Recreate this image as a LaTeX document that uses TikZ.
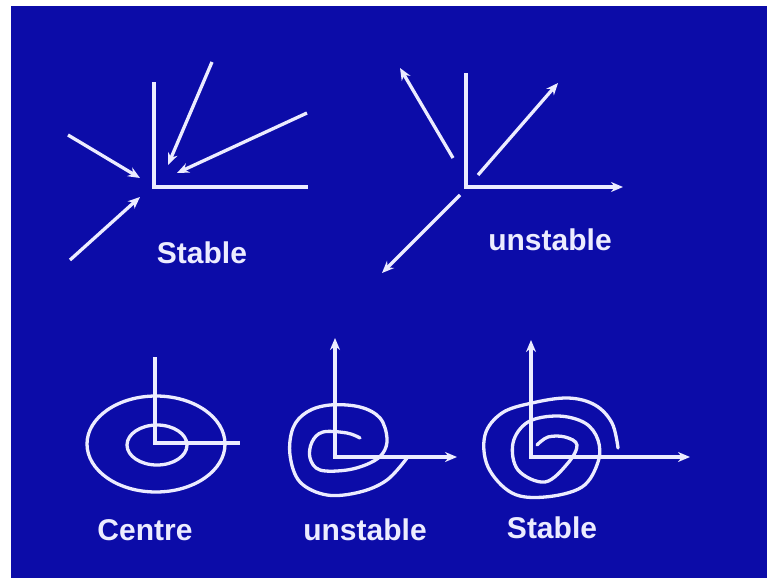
\documentclass[tikz,border=0pt]{standalone}
\usepackage{fontspec}
\setmainfont{Liberation Sans}
\usepackage{xcolor}
\usetikzlibrary{arrows.meta}
\definecolor{slide}{RGB}{12,12,168}
\definecolor{chalk}{RGB}{236,236,255}

\begin{document}
\begin{tikzpicture}[x=1pt, y=-1pt, line width=3.3pt, >={Stealth[length=12pt, width=10pt]}, chalk,
    lbl/.style={font=\fontsize{30}{32}\selectfont\bfseries, text=chalk}]
    % background of the slide
    \fill[white] (0,0) rectangle (767,578);
    \fill[slide] (11,6) rectangle (767,578);
    % stable node
    \draw (154,82) -- (154,187) -- (308,187);
    \draw[->] (68,135) -- (140,178);
    \draw[->] (212,62) -- (168,165);
    \draw[->] (307,113) -- (177,173);
    \draw[->] (70,260) -- (140,197);
    \node[lbl] (stablenode) at (202,253) {Stable};
    % unstable node
    \draw[->] (466,73) -- (466,187) -- (623,187);
    \draw[->] (453,158) -- (400,68);
    \draw[->] (478,175) -- (558,83);
    \draw[->] (460,195) -- (382,273);
    \node[lbl] (unstablenode) at (550,240) {unstable};
    % centre
    \draw (155,357) -- (155,443) -- (240,443);
    \draw (156,444) ellipse (69 and 48);
    \draw (157,445) ellipse (30 and 20);
    \node[lbl] (centre) at (145,530) {Centre};
    % unstable spiral
    \draw[<->] (335,338) -- (335,457) -- (457,457);
    \draw[line cap=round] plot[smooth, tension=0.6] coordinates {(360,438) (347,433) (323,432)
        (312,442) (310,458) (320,470) (347,470) (370,463) (383,453) (387,438) (380,418)
        (360,407) (330,405) (307,412) (293,428) (290,455) (300,482) (327,495) (360,492)
        (387,480) (407,458)};
    \node[lbl] (unstablespiral) at (365,530) {unstable};
    % stable spiral
    \draw[<->] (531,340) -- (531,457) -- (690,457);
    \draw[line cap=round] plot[smooth, tension=0.6] coordinates {(618,448) (612,423) (595,405)
        (568,398) (532,403) (502,413) (485,435) (488,467) (512,493) (545,497) (582,487)
        (598,462) (598,440) (585,423) (558,416) (528,422) (513,443) (518,470) (545,482)
        (568,463) (577,445) (565,437) (548,437) (537,445)};
    \node[lbl] (stablespiral) at (552,528) {Stable};
\end{tikzpicture}
\end{document}
